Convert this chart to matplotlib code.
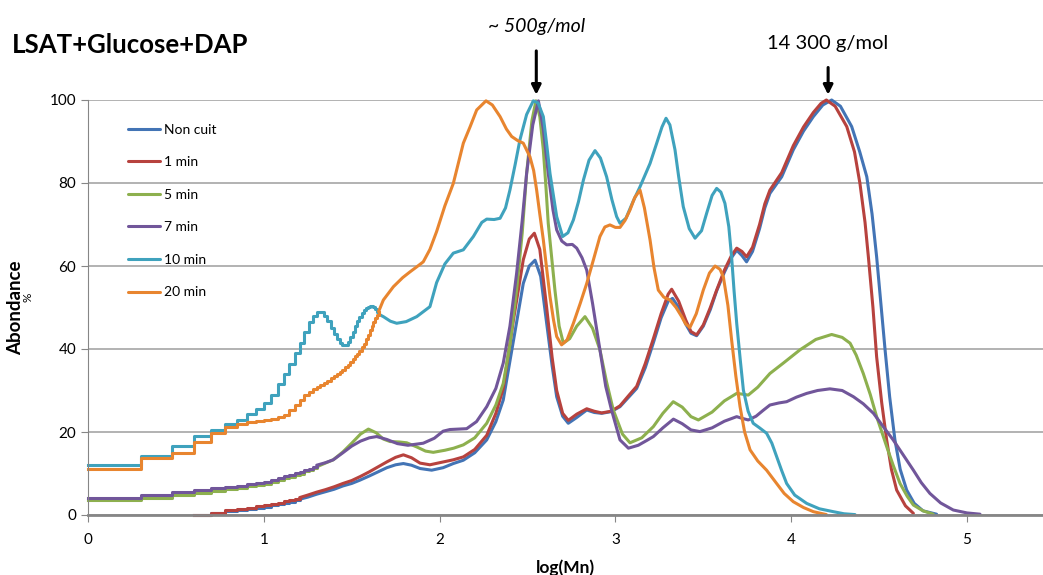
import matplotlib
matplotlib.use("Agg")
import matplotlib.pyplot as plt

plt.rcParams['font.family'] = ['Lato', 'DejaVu Sans']

# x positions of the stair-step part (log of small integers)
STEP_X = [0, 0.301, 0.477, 0.602, 0.699, 0.778, 0.845, 0.903, 0.954, 1.0,
          1.041, 1.079, 1.114, 1.146, 1.176, 1.204, 1.230, 1.255, 1.279, 1.301,
          1.322, 1.342, 1.362, 1.380, 1.398, 1.415, 1.431, 1.447, 1.462, 1.477,
          1.491, 1.505, 1.519, 1.531, 1.544, 1.556, 1.568, 1.580, 1.591, 1.602,
          1.613, 1.623, 1.633, 1.643, 1.653]

labels = ["Non cuit", "1 min", "5 min", "7 min", "10 min", "20 min"]
colors = ["#4374B5", "#B7423E", "#8DB04E", "#71569A", "#3FA2BD", "#E8852F"]

# Non cuit
nc_step = [0, 0.4, 0.9, 1.2, 1.5, 1.8, 2.0, 2.3, 2.6, 2.9, 3.2, 3.5, 3.8]
nc_x = [1.25, 1.3, 1.35, 1.4, 1.45, 1.5, 1.547, 1.6, 1.65, 1.7, 1.75, 1.794, 1.84, 1.889, 1.955,
        2.02, 2.078, 2.135, 2.2, 2.268, 2.32, 2.362, 2.42, 2.476, 2.51, 2.543, 2.575, 2.609, 2.64,
        2.666, 2.70, 2.732, 2.78, 2.837, 2.88, 2.922, 2.975, 3.026, 3.08, 3.121, 3.17, 3.216, 3.26,
        3.30, 3.325, 3.36, 3.40, 3.43, 3.462, 3.50, 3.54, 3.576, 3.62, 3.66, 3.69, 3.72, 3.746,
        3.78, 3.82, 3.85, 3.879, 3.946, 4.012, 4.07, 4.126, 4.18, 4.23, 4.28, 4.344, 4.39, 4.43,
        4.46, 4.486, 4.51, 4.534, 4.56, 4.59, 4.62, 4.657, 4.70, 4.75, 4.827]
nc_y = [4.3, 5.0, 5.6, 6.2, 7.0, 7.6, 8.4, 9.4, 10.4, 11.4, 12.1, 12.4, 12.0, 11.2, 10.8,
        11.4, 12.4, 13.2, 15.0, 18.1, 22.5, 27.7, 42, 55.8, 60.0, 61.4, 57.5, 46.2, 36.0,
        28.5, 23.8, 22.1, 23.5, 25.3, 24.7, 24.5, 24.9, 26.1, 28.6, 30.5, 35.5, 41.5, 47.5,
        51.5, 52.2, 50.0, 46.0, 43.8, 43.2, 45.5, 49.5, 54.0, 58.5, 62.0, 63.8, 62.5, 61.0,
        63.5, 69.0, 74.0, 77.5, 81.5, 88, 92.5, 96, 98.8, 100, 98.5, 93.6, 87.5, 81.5,
        72.5, 62.2, 51.0, 39.8, 28.5, 18.1, 11.0, 6.0, 2.8, 1.0, 0.2]

# 1 min
m1_step = [0, 0.6, 1.2, 1.5, 1.8, 2.1, 2.3, 2.6, 2.9, 3.3, 3.6, 3.9, 4.2]
m1_x = [1.25, 1.3, 1.35, 1.4, 1.45, 1.5, 1.55, 1.6, 1.65, 1.7, 1.75, 1.794, 1.84, 1.889, 1.945,
        2.0, 2.078, 2.135, 2.2, 2.268, 2.32, 2.362, 2.42, 2.476, 2.51, 2.539, 2.57, 2.609, 2.64,
        2.666, 2.70, 2.732, 2.78, 2.837, 2.88, 2.922, 2.975, 3.026, 3.08, 3.121, 3.17, 3.216, 3.26,
        3.30, 3.32, 3.36, 3.40, 3.43, 3.462, 3.50, 3.54, 3.576, 3.62, 3.66, 3.69, 3.72, 3.746,
        3.78, 3.82, 3.85, 3.879, 3.946, 4.012, 4.07, 4.126, 4.17, 4.20, 4.25, 4.316, 4.36, 4.391,
        4.42, 4.439, 4.465, 4.486, 4.515, 4.543, 4.57, 4.60, 4.65, 4.695]
m1_y = [4.8, 5.5, 6.1, 6.8, 7.6, 8.3, 9.3, 10.4, 11.6, 12.8, 13.9, 14.5, 13.8, 12.5, 12.1,
        12.6, 13.3, 14.0, 15.8, 19.2, 24.5, 30.5, 47, 61.5, 66.5, 67.9, 64, 50.0, 38.0,
        30.0, 24.5, 22.8, 24.3, 25.6, 25.0, 24.6, 25.0, 26.3, 29.0, 31.0, 36.5, 42.5, 48.5,
        53.2, 54.4, 51.5, 47.0, 44.2, 43.4, 45.8, 50.0, 54.2, 59.0, 62.5, 64.3, 63.5, 62.2,
        64.5, 70.0, 75.0, 78.3, 82.5, 89, 93.5, 97, 99.2, 100, 98.5, 93.6, 87.5, 79.9,
        70.5, 62.2, 50.0, 38.1, 27.0, 18.1, 11.0, 6.0, 2.2, 0.4]

# 5 min
m5_step = [3.5, 4.1, 4.8, 5.4, 5.8, 6.2, 6.6, 6.9, 7.2, 7.5,
           8.0, 8.4, 8.8, 9.2, 9.6, 10.0, 10.5, 10.9, 11.3, 11.6]
m5_x = [1.35, 1.395, 1.45, 1.5, 1.55, 1.595, 1.64, 1.68, 1.718, 1.77, 1.813, 1.87, 1.92, 1.964,
        2.03, 2.08, 2.135, 2.2, 2.268, 2.32, 2.362, 2.40, 2.438, 2.47, 2.495, 2.525, 2.548, 2.57,
        2.59, 2.605, 2.618, 2.656, 2.68, 2.704, 2.74, 2.78, 2.827, 2.87, 2.912, 2.95, 2.988, 3.04,
        3.083, 3.15, 3.216, 3.27, 3.329, 3.38, 3.43, 3.472, 3.55, 3.62, 3.69, 3.725, 3.756, 3.81,
        3.879, 3.955, 4.05, 4.14, 4.23, 4.29, 4.335, 4.37, 4.41, 4.45, 4.486, 4.543, 4.58, 4.619,
        4.66, 4.695, 4.75, 4.808]
m5_y = [12.5, 13.3, 15.2, 17.3, 19.5, 20.7, 19.8, 18.3, 17.7, 17.6, 17.4, 16.4, 15.4, 15.1,
        15.6, 16.1, 16.9, 18.6, 22.1, 26.5, 31.7, 41, 54.2, 68, 82.3, 95, 99.8, 96,
        88, 79, 70.3, 54.2, 45.5, 41.4, 42.5, 45.5, 47.8, 45.0, 39.8, 32.0, 25.3, 19.5,
        17.4, 18.6, 21.3, 24.5, 27.3, 26.0, 23.7, 22.9, 24.8, 27.5, 29.3, 29.1, 28.9, 30.8,
        34.1, 36.6, 39.8, 42.3, 43.5, 42.8, 41.4, 38.5, 34.1, 29.0, 23.7, 16.5, 12.0, 7.6,
        4.5, 2.4, 1.0, 0.2]

# 7 min
m7_step = [4.2, 4.8, 5.5, 6.0, 6.4, 6.8, 7.1, 7.4, 7.7, 8.0,
           8.5, 8.9, 9.3, 9.7, 10.1, 10.4, 10.8, 11.2, 11.6, 12.0]
m7_x = [1.35, 1.395, 1.45, 1.5, 1.55, 1.6, 1.642, 1.7, 1.76, 1.82, 1.907, 1.97, 2.02, 2.059,
        2.154, 2.21, 2.268, 2.32, 2.362, 2.40, 2.438, 2.47, 2.495, 2.53, 2.562, 2.59, 2.618, 2.645,
        2.666, 2.695, 2.723, 2.755, 2.78, 2.81, 2.837, 2.87, 2.912, 2.945, 2.978, 3.026, 3.074, 3.13,
        3.18, 3.216, 3.27, 3.33, 3.38, 3.43, 3.481, 3.55, 3.62, 3.69, 3.72, 3.756, 3.8, 3.84,
        3.879, 3.93, 3.974, 4.03, 4.088, 4.15, 4.22, 4.29, 4.354, 4.41, 4.468, 4.52, 4.58, 4.64,
        4.695, 4.74, 4.789, 4.85, 4.922, 5.0, 5.074]
m7_y = [12.6, 13.3, 15.0, 16.6, 17.8, 18.6, 18.9, 18.2, 17.2, 16.8, 17.3, 18.5, 20.2, 20.6,
        20.8, 22.5, 26.1, 30.5, 36.6, 45.5, 58.2, 71, 82.3, 94, 99.8, 93, 82.3, 73.5,
        68.7, 66.0, 65.1, 65.2, 64.3, 62.0, 59, 51, 39.8, 31, 25.3, 18.1, 16.1, 16.8,
        18.0, 18.9, 21.0, 23.1, 22.0, 20.5, 20.1, 21.0, 22.6, 23.7, 23.3, 22.9, 23.8, 25.2,
        26.5, 27.0, 27.3, 28.4, 29.3, 30.0, 30.4, 30.0, 28.5, 26.8, 24.5, 21.5, 18.1, 14.3,
        10.8, 7.8, 5.2, 2.9, 1.2, 0.5, 0.2]

# 10 min
m10_step = [12.0, 14.2, 16.6, 19.0, 20.5, 22.0, 23.0, 24.3, 25.5, 27.0,
            29.0, 31.5, 34.0, 36.5, 39.0, 41.5, 44.0, 46.5, 48.0, 49.0,
            49.0, 48.0, 46.8, 45.0, 43.5, 42.3, 41.5, 41.0, 41.0, 41.8,
            42.8, 44.2, 45.5, 46.7, 47.7, 48.6, 49.3, 49.8, 50.1, 50.3,
            50.3, 50.1, 49.6, 49.0, 48.4]
m10_x = [1.68, 1.72, 1.756, 1.81, 1.87, 1.945, 1.983, 2.03, 2.078, 2.135, 2.192, 2.24, 2.268, 2.31,
         2.344, 2.375, 2.4, 2.43, 2.457, 2.495, 2.533, 2.56, 2.59, 2.61, 2.628, 2.666, 2.7, 2.73,
         2.761, 2.79, 2.818, 2.85, 2.884, 2.915, 2.95, 2.98, 3.007, 3.026, 3.06, 3.1, 3.14, 3.197,
         3.235, 3.265, 3.288, 3.31, 3.339, 3.36, 3.386, 3.42, 3.453, 3.49, 3.519, 3.55, 3.576, 3.60,
         3.623, 3.645, 3.661, 3.675, 3.69, 3.71, 3.728, 3.755, 3.784, 3.82, 3.86, 3.89, 3.917, 3.945,
         3.974, 4.02, 4.088, 4.16, 4.24, 4.3, 4.363]
m10_y = [47.8, 46.7, 46.2, 46.6, 47.8, 50.2, 56.0, 60.5, 63.1, 63.9, 67.1, 70.5, 71.3, 71.2,
         71.5, 74.0, 78.3, 84.5, 90.4, 96.5, 99.8, 99.3, 96, 89, 82.3, 71.9, 67.1, 68.0,
         71.1, 75.5, 80.7, 85.5, 87.8, 86.0, 81.5, 76.0, 71.9, 70.3, 71.5, 75.5, 79.1, 84.7,
         89.6, 93.5, 95.6, 94.0, 88, 81.5, 74.3, 69.0, 66.7, 68.5, 72.7, 77.0, 78.7, 77.8,
         75.1, 69.5, 62.2, 54.0, 46.2, 37.5, 30.1, 25.0, 22.1, 21.0, 19.7, 17.3, 14.1, 10.8,
         7.6, 4.8, 2.8, 1.5, 0.8, 0.3, 0.1]

# 20 min
m20_step = [11.2, 13.7, 15.0, 17.7, 19.8, 21.3, 22.0, 22.3, 22.6, 22.9,
            23.1, 23.5, 24.1, 25.2, 26.4, 27.7, 28.9, 29.7, 30.3, 30.9,
            31.4, 31.9, 32.4, 32.9, 33.4, 33.9, 34.4, 35.0, 35.6, 36.2,
            36.8, 37.5, 38.2, 38.9, 39.6, 40.4, 41.3, 42.3, 43.4, 44.5,
            45.6, 46.6, 47.5, 48.3, 49.0]
m20_x = [1.68, 1.737, 1.79, 1.832, 1.87, 1.907, 1.945, 1.983, 2.03, 2.078, 2.135, 2.173, 2.211, 2.264,
         2.30, 2.344, 2.38, 2.41, 2.445, 2.476, 2.514, 2.535, 2.552, 2.57, 2.59, 2.61, 2.628, 2.648,
         2.666, 2.694, 2.725, 2.761, 2.80, 2.837, 2.875, 2.912, 2.94, 2.969, 3.0, 3.026, 3.055, 3.083,
         3.11, 3.14, 3.165, 3.197, 3.22, 3.244, 3.275, 3.31, 3.345, 3.377, 3.40, 3.424, 3.46, 3.5,
         3.535, 3.567, 3.595, 3.614, 3.64, 3.661, 3.685, 3.709, 3.735, 3.766, 3.81, 3.86, 3.917, 3.96,
         4.012, 4.07, 4.126, 4.2]
m20_y = [51.8, 55, 57.2, 58.6, 59.8, 61.0, 64.0, 68.3, 74.5, 79.9, 89.6, 93.5, 97.6, 99.8,
         98.8, 96, 93.0, 91.2, 90.2, 89.6, 86.3, 83.0, 78.3, 72.5, 66.3, 59.0, 52.6, 47.0,
         43.0, 41.0, 42.2, 46.2, 51.0, 55.8, 61.5, 67.1, 69.4, 69.9, 69.3, 69.3, 71.0, 73.5,
         76.5, 78.3, 74.0, 66.3, 59.5, 54.2, 52.5, 51.8, 50.0, 47.8, 46.0, 45.2, 48.5, 54.2,
         58.3, 60.0, 59.2, 57.4, 50.5, 42.2, 33.5, 26.1, 20.0, 15.7, 13.0, 10.8, 7.6, 5.2,
         3.2, 1.8, 0.8, 0.1]

series = [
    (STEP_X[3:16], nc_step, nc_x, nc_y),
    (STEP_X[3:16], m1_step, m1_x, m1_y),
    (STEP_X[:20], m5_step, m5_x, m5_y),
    (STEP_X[:20], m7_step, m7_x, m7_y),
    (STEP_X, m10_step, m10_x, m10_y),
    (STEP_X, m20_step, m20_x, m20_y),
]

fig = plt.figure(figsize=(10.43, 5.75), dpi=100)
ax = fig.add_axes([88 / 1043, 60 / 575, 955 / 1043, 415 / 575])

lw = 2.2
for (sx, sy, x, y), c, lab in zip(series, colors, labels):
    ax.plot(sx, sy, drawstyle='steps-post', color=c, lw=lw, clip_on=False)
    ax.plot([sx[-1]] + x, [sy[-1]] + y, color=c, lw=lw, label=lab, clip_on=False,
            solid_capstyle='round', solid_joinstyle='round')

ax.set_xlim(0, 955 / 175.8)
ax.set_ylim(0, 100)
ax.set_xticks([0, 1, 2, 3, 4, 5])
ax.set_yticks([0, 20, 40, 60, 80, 100])
ax.yaxis.grid(True, color='#A6A6A6', lw=1.2)
ax.set_axisbelow(True)
for s in ['top', 'right']:
    ax.spines[s].set_visible(False)
ax.spines['left'].set_color('#868686')
ax.spines['bottom'].set_color('#868686')
ax.spines['bottom'].set_linewidth(2)
ax.tick_params(axis='both', colors='#868686', labelcolor='black', labelsize=11, length=5)
ax.tick_params(axis='x', pad=8)

ax.set_xlabel('log(Mn)', fontsize=12.5, fontweight='bold', labelpad=9)
ax.set_ylabel('Abondance', fontsize=13.5, fontweight='bold', labelpad=18)
fig.text(28 / 1043, 1 - 297 / 575, '%', rotation=90, fontsize=8.5, ha='center', va='center')

fig.text(12 / 1043, 1 - 45 / 575, 'LSAT+Glucose+DAP', fontsize=18.5, fontweight='bold',
         ha='left', va='center')

ax.annotate('', xy=(2.55, 100.6), xytext=(2.55, 112.5), annotation_clip=False,
            arrowprops=dict(arrowstyle='-|>', color='black', lw=2.2, mutation_scale=14))
ax.text(2.55, 117.8, '~ 500g/mol', style='italic', fontsize=14, ha='center', va='center')
ax.annotate('', xy=(4.21, 100.6), xytext=(4.21, 108.5), annotation_clip=False,
            arrowprops=dict(arrowstyle='-|>', color='black', lw=2.2, mutation_scale=14))
ax.text(4.21, 113.5, '14 300 g/mol', fontsize=14.5, ha='center', va='center')

ax.legend(loc='upper left', bbox_to_anchor=(0.042, 0.943), frameon=False, fontsize=10,
          handlelength=2.3, handletextpad=0.3, labelspacing=1.48, borderpad=0, borderaxespad=0)

plt.savefig('out.png', dpi=100)
